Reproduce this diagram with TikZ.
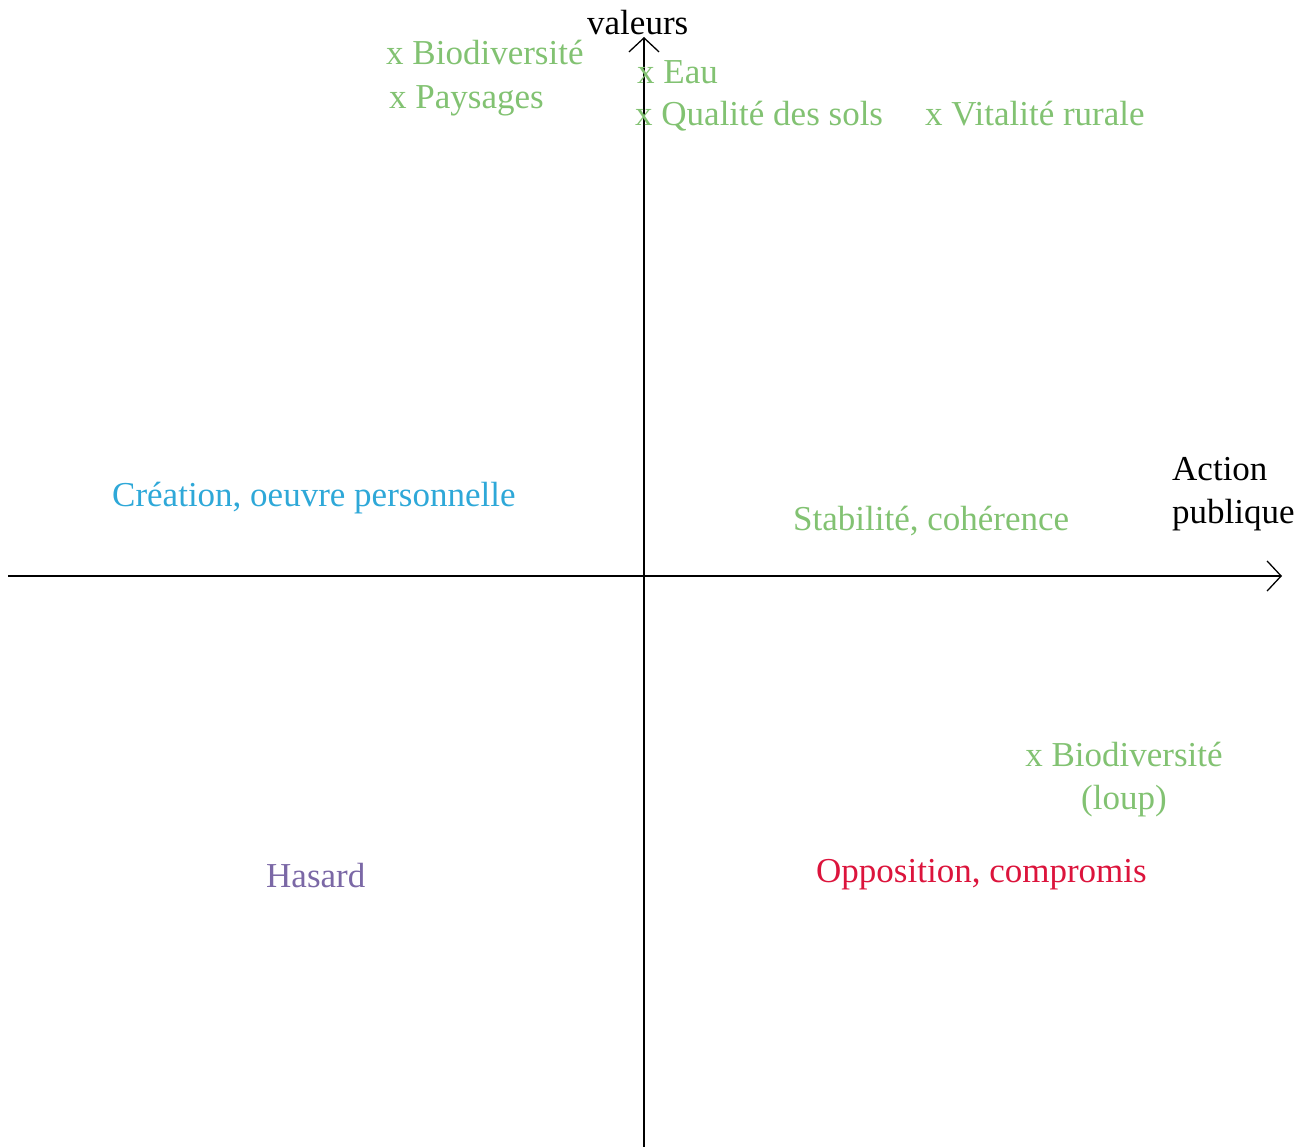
\documentclass[tikz,border=0pt]{standalone}
\usepackage{fontspec}
\setmainfont{Liberation Serif}
\usepackage{xcolor}
\usetikzlibrary{positioning, arrows.meta}

\definecolor{vert}{RGB}{130,194,114}
\definecolor{bleu}{RGB}{46,168,216}
\definecolor{rouge}{RGB}{220,20,60}
\definecolor{violet}{RGB}{123,104,166}

\begin{document}
\begin{tikzpicture}[x=1pt,y=-1pt,
		axe/.style={line width=1.3pt,-{Straight Barb[length=14pt,width=30pt,line width=1.3pt]}},
		lbl/.style={anchor=base west,inner sep=0pt,font=\fontsize{35}{43}\selectfont}]

		\useasboundingbox (0,0) rectangle (1310,1147);

		\coordinate (xg) at (8,576);
		\coordinate (xd) at (1282,576);
		\coordinate (yb) at (644,1147);
		\coordinate (yh) at (644,37);

		\draw[axe] (xg) -- (xd);
		\draw[axe] (yb) -- (yh);

		\node[lbl] (valeurs) at (587,35) {valeurs};
		\node[lbl,align=left] (action) at (1172,523) {Action\\publique};

		\node[lbl,text=vert] (biodiv) at (386,65) {x Biodiversité};
		\node[lbl,text=vert] (paysages) at (389,109) {x Paysages};
		\node[lbl,text=vert] (eau) at (637,84) {x Eau};
		\node[lbl,text=vert] (sols) at (635,126) {x Qualité des sols};
		\node[lbl,text=vert] (vitalite) at (925,126) {x Vitalité rurale};

		\node[lbl,text=bleu] (creation) at (112,507) {Création, oeuvre personnelle};
		\node[lbl,text=vert] (stabilite) at (793,530) {Stabilité, cohérence};
		\node[lbl,text=vert,anchor=base,align=center] (loup) at (1124,809) {x Biodiversité\\(loup)};
		\node[lbl,text=rouge] (opposition) at (816,882) {Opposition, compromis};
		\node[lbl,text=violet] (hasard) at (266,887) {Hasard};

	\end{tikzpicture}
\end{document}
